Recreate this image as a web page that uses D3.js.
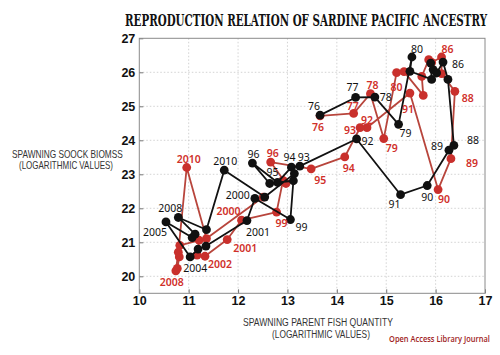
<!DOCTYPE html>
<html><head><meta charset="utf-8">
<script src="https://cdn.jsdelivr.net/npm/d3@7"></script>
<style>html,body{margin:0;padding:0;background:#fff;}</style>
</head><body>
<svg id="chart" width="500" height="355"></svg>
<script>
// ---- data ----
const years = ["76","77","78","79","80","81","82","83","84","85","86","87","88","89","90","91","92","93","94","95","96","97","98","99","2000","2001","2002","2003","2004","2005","2006","2007","2008","2009","2010","2011","2012"];
const blackX = [13.66,14.38,14.77,15.25,15.52,15.48,15.92,15.90,15.95,16.02,16.15,16.25,16.37,16.27,15.83,15.29,14.40,13.25,13.08,12.80,12.29,12.64,13.12,13.06,12.34,12.18,11.35,11.19,11.03,10.54,11.07,11.13,10.79,11.36,11.72,12.54,13.14];
const blackY = [24.74,25.26,25.27,24.47,26.45,26.03,25.79,26.27,26.08,25.98,26.30,25.79,23.85,23.71,22.67,22.40,24.04,23.24,23.21,22.76,23.33,22.73,22.81,21.67,22.29,21.64,20.89,20.80,20.57,21.60,21.14,21.24,21.73,21.37,23.12,22.33,23.02];
const redX = [13.66,14.34,14.68,14.95,15.21,15.36,15.75,15.72,15.86,15.92,16.12,16.12,16.39,16.31,16.05,15.48,14.61,14.47,14.16,13.48,12.66,12.97,12.91,12.78,12.07,11.78,11.33,11.17,11.21,10.82,10.81,10.77,10.74,10.79,10.96,11.36,12.51];
const redY = [24.72,24.79,25.37,24.05,25.99,26.02,25.32,25.88,26.37,26.29,26.45,25.96,25.44,23.46,22.55,25.39,24.37,24.37,23.51,23.16,23.36,22.73,22.82,21.89,21.65,21.08,20.59,20.62,21.06,20.91,20.57,20.23,20.16,20.71,23.20,21.11,22.33];
const xTicks = [10,11,12,13,14,15,16,17];
const yTicks = [20,21,22,23,24,25,26,27];
// labelled years and label offsets (px) from their point
const blackLabels = [["76",-6,-9],["77",-3,-10],["78",11,0],["79",7,9],["80",5,-8],["86",15,2],["88",19,-5],["89",-12,-4],["90",0,11],["91",-6,9],["92",11,2],["93",4,-9],["94",-2,-10],["95",-5,-10],["96",1,-9],["99",11,7],["2000",-17,-3],["2001",11,11],["2004",5,11],["2005",-11,10],["2008",-8,-9],["2010",1,-9]];
const redLabels = [["76",-2,11],["77",-1,-7],["78",2,-9],["79",8,9],["80",0,14],["86",6,-8],["88",13,7],["89",21,4],["90",6,9],["91",-2,16],["92",0,-8],["93",-10,2],["94",4,11],["95",9,11],["96",2,-9],["99",5,11],["2000",-13,-9],["2001",18,8],["2002",15,8],["2008",-4,11],["2010",2,-9]];

// ---- layout ----
const svg = d3.select("#chart");
const L = 139.3, R = 485, T = 38.3, B = 293.3;
const x = d3.scaleLinear().domain([10,17]).range([L,R]);
const y = d3.scaleLinear().domain([19.5,27]).range([B,T]);
const RED = "#c9302c", REDLINE = "#b8453c", BLK = "#111";

// grid
svg.append("g").selectAll("line").data(xTicks.slice(1,-1)).join("line")
  .attr("x1",d=>x(d)).attr("x2",d=>x(d)).attr("y1",T).attr("y2",B)
  .attr("stroke","#c8c8c8").attr("stroke-width",0.8).attr("stroke-dasharray","1.5,2");
svg.append("g").selectAll("line").data(yTicks.slice(0,-1)).join("line")
  .attr("y1",d=>y(d)).attr("y2",d=>y(d)).attr("x1",L).attr("x2",R)
  .attr("stroke","#c8c8c8").attr("stroke-width",0.8).attr("stroke-dasharray","1.5,2");

// axes
const xAxis = d3.axisBottom(x).tickValues(xTicks).tickSize(-4).tickPadding(3).tickFormat(d3.format("d"));
const yAxis = d3.axisLeft(y).tickValues(yTicks).tickSize(-4).tickPadding(4).tickFormat(d3.format("d"));
const gx = svg.append("g").attr("transform",`translate(0,${B})`).call(xAxis);
const gy = svg.append("g").attr("transform",`translate(${L},0)`).call(yAxis);
[gx,gy].forEach(g=>{
  g.select(".domain").remove();
  g.selectAll(".tick line").attr("stroke","#777");
  g.selectAll(".tick text").attr("font-family","Liberation Sans, Arial, sans-serif")
   .attr("font-weight","bold").attr("font-size",12.5).attr("fill","#111");
});
// frame
svg.append("rect").attr("x",L).attr("y",T).attr("width",R-L).attr("height",B-T)
  .attr("fill","none").attr("stroke","#8a8a8a").attr("stroke-width",1);

// series
function drawSeries(xs, ys, lineColor, dotColor){
  const pts = xs.map((v,i)=>[v, ys[i]]);
  svg.append("path").datum(pts)
    .attr("d", d3.line().x(d=>x(d[0])).y(d=>y(d[1])))
    .attr("fill","none").attr("stroke",lineColor).attr("stroke-width",1.8).attr("stroke-linejoin","round");
  svg.append("g").selectAll("circle").data(pts).join("circle")
    .attr("cx",d=>x(d[0])).attr("cy",d=>y(d[1])).attr("r",4.4).attr("fill",dotColor);
}
drawSeries(redX, redY, REDLINE, RED);
drawSeries(blackX, blackY, BLK, BLK);

function drawLabels(list, xs, ys, color, weight){
  svg.append("g").selectAll("text").data(list).join("text")
    .attr("x",d=>x(xs[years.indexOf(d[0])])+d[1])
    .attr("y",d=>y(ys[years.indexOf(d[0])])+d[2])
    .attr("text-anchor","middle").attr("dominant-baseline","central")
    .attr("font-family","Noto Sans, Open Sans, sans-serif").attr("font-size",10.5)
    .attr("font-weight",weight).attr("fill",color).text(d=>d[0]);
}
drawLabels(redLabels, redX, redY, "#d0302a", 600);
drawLabels(blackLabels, blackX, blackY, "#111", 400);

// text squeezed horizontally to a target width via a scale transform
function fitText(sel, x0, y0, width){
  const w = sel.node().getComputedTextLength();
  const s = width / w;
  sel.attr("x",0).attr("y",0).attr("transform",`translate(${x0},${y0}) scale(${s},1)`);
}

// title
fitText(svg.append("text").attr("font-family","DejaVu Serif, serif").attr("font-weight","bold").attr("font-size",16.5)
  .attr("fill","#111").text("REPRODUCTION RELATION OF SARDINE PACIFIC ANCESTRY"), 125, 26, 362);

// y axis title
const yt = svg.append("g").attr("font-family","Liberation Sans Narrow, Liberation Sans, Arial, sans-serif")
  .attr("font-size",10.5).attr("fill","#333");
fitText(yt.append("text").text("SPAWNING SOOCK BIOMSS"), 12, 157.5, 111);
fitText(yt.append("text").text("(LOGARITHMIC VALUES)"), 19, 168.5, 94);
// x axis title
const xt = svg.append("g").attr("font-family","Liberation Sans Narrow, Liberation Sans, Arial, sans-serif")
  .attr("font-size",11).attr("fill","#333");
fitText(xt.append("text").text("SPAWNING PARENT FISH QUANTITY"), 243, 326, 150);
fitText(xt.append("text").text("(LOGARITHMIC VALUES)"), 272, 338, 98);
// source
fitText(svg.append("text").attr("font-family","Open Sans, Noto Sans, sans-serif").attr("font-size",9).attr("font-weight",600)
  .attr("fill","#9e1b1b").text("Open Access Library Journal"), 389, 342, 101);
</script>
</body></html>
